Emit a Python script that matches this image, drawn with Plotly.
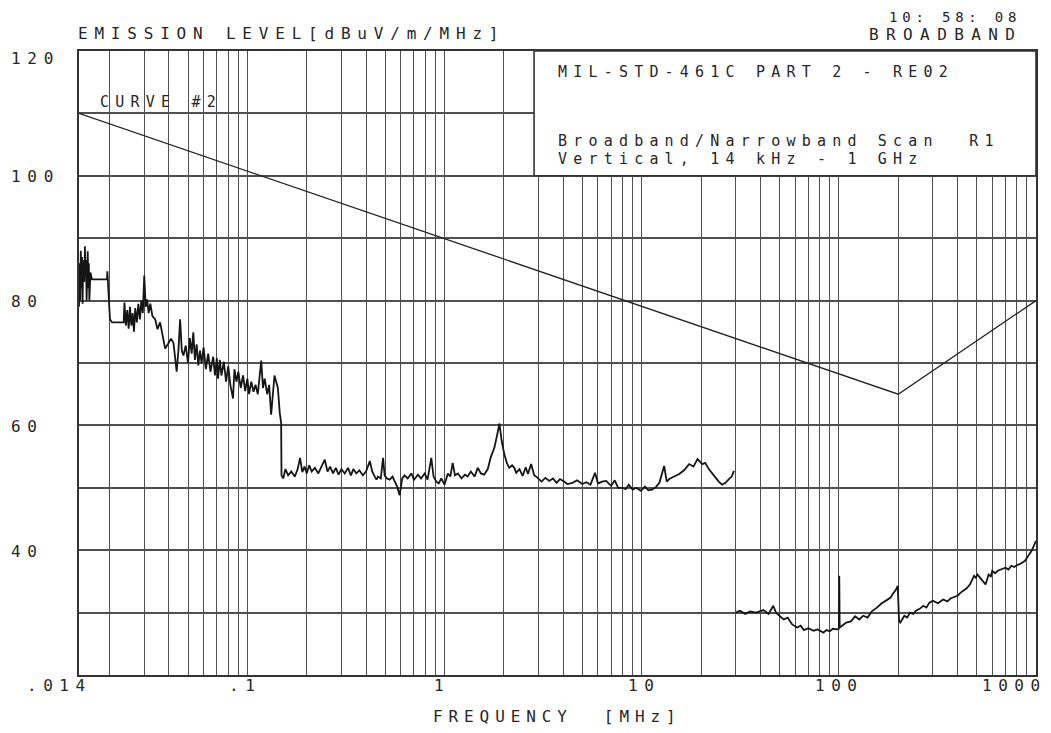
import numpy as np
import plotly.graph_objects as go

# ---------------- data ----------------
# Band 1: 14 kHz - 150 kHz
band1_freq = [0.0140, 0.0141, 0.0142, 0.0143, 0.0144, 0.0145, 0.0146, 0.0147, 0.0149, 0.0150,
              0.0151, 0.0152, 0.0153, 0.0155, 0.0156, 0.0157, 0.0158, 0.0160, 0.0163, 0.0194,
              0.0195, 0.0198, 0.0201, 0.0206, 0.0236, 0.0238, 0.0242, 0.0246, 0.0250, 0.0254,
              0.0258, 0.0262, 0.0266, 0.0270, 0.0275, 0.0280, 0.0285, 0.0290, 0.0295, 0.0300,
              0.0305, 0.0310, 0.0316, 0.0322, 0.0330, 0.0341, 0.0350, 0.0361, 0.0370, 0.0383,
              0.0395, 0.0410, 0.0422, 0.0438, 0.0447, 0.0456, 0.0465, 0.0474, 0.0487, 0.0500,
              0.0511, 0.0522, 0.0532, 0.0542, 0.0553, 0.0564, 0.0575, 0.0586, 0.0600, 0.0616,
              0.0633, 0.0650, 0.0671, 0.0685, 0.0700, 0.0710, 0.0725, 0.0739, 0.0760, 0.0780,
              0.0800, 0.0820, 0.0846, 0.0860, 0.0880, 0.0900, 0.0925, 0.0951, 0.0975, 0.1000,
              0.1020, 0.1047, 0.1075, 0.1100, 0.1130, 0.1176, 0.1200, 0.1225, 0.1260, 0.1290,
              0.1320, 0.1350, 0.1373, 0.1400, 0.1428, 0.1460, 0.1484]
band1_level = [79.0, 86.0, 80.0, 88.0, 82.0, 87.0, 79.5, 86.5, 83.0, 88.7,
               84.0, 86.5, 80.0, 87.9, 82.0, 86.0, 80.0, 84.5, 83.4, 83.4,
               84.7, 81.0, 77.0, 76.5, 76.5, 79.7, 76.0, 78.5, 75.5, 79.0,
               76.0, 78.0, 75.0, 78.8, 76.5, 79.5, 77.0, 80.0, 78.0, 84.0,
               79.0, 80.2, 78.0, 79.5, 77.5, 77.0, 75.4, 76.5, 74.5, 72.3,
               73.0, 73.9, 73.2, 68.6, 72.0, 77.0, 72.0, 71.2, 72.8, 70.0,
               74.0, 71.5, 74.9, 70.5, 73.0, 69.6, 72.0, 70.0, 72.5, 69.0,
               71.5, 68.6, 71.0, 68.0, 70.8, 67.5, 70.5, 68.0, 70.2, 67.0,
               69.5, 66.5, 64.3, 69.0, 67.0, 68.6, 66.0, 68.0, 65.5, 67.5,
               65.0, 67.0, 65.4, 66.5, 65.0, 70.4, 66.0, 67.5, 65.0, 66.5,
               61.7, 66.0, 68.0, 67.0, 66.0, 62.0, 60.4]

# Band 2: 150 kHz - 30 MHz
band2_freq = [0.149, 0.152, 0.156, 0.161, 0.167, 0.174, 0.180, 0.185, 0.190, 0.195,
              0.200, 0.206, 0.212, 0.220, 0.229, 0.238, 0.247, 0.255, 0.263, 0.272,
              0.281, 0.290, 0.300, 0.312, 0.324, 0.335, 0.345, 0.357, 0.370, 0.385,
              0.400, 0.418, 0.430, 0.443, 0.452, 0.460, 0.475, 0.488, 0.497, 0.510,
              0.527, 0.545, 0.558, 0.575, 0.592, 0.610, 0.628, 0.650, 0.679, 0.700,
              0.733, 0.760, 0.793, 0.820, 0.857, 0.880, 0.908, 0.935, 0.963, 1.000,
              1.040, 1.070, 1.100, 1.130, 1.169, 1.220, 1.270, 1.310, 1.360, 1.420,
              1.475, 1.530, 1.590, 1.657, 1.720, 1.790, 1.850, 1.900, 1.950, 2.010,
              2.070, 2.130, 2.200, 2.260, 2.310, 2.400, 2.490, 2.580, 2.650, 2.750,
              2.850, 2.970, 3.100, 3.250, 3.400, 3.550, 3.700, 3.850, 4.000, 4.200,
              4.460, 4.700, 5.000, 5.250, 5.500, 5.800, 6.000, 6.300, 6.600, 6.800,
              7.000, 7.300, 7.600, 8.000, 8.300, 8.600, 9.000, 9.400, 9.900, 10.40,
              10.80, 11.30, 11.80, 12.30, 13.00, 13.40, 13.80, 14.60, 15.50, 16.40,
              17.40, 18.30, 19.20, 20.30, 21.00, 21.90, 22.80, 23.70, 24.60, 25.60,
              26.60, 27.70, 28.60, 29.40]
band2_level = [52.0, 51.5, 53.0, 52.0, 52.6, 51.8, 53.0, 54.8, 52.5, 53.4,
               52.3, 53.6, 52.6, 53.2, 52.3, 53.4, 54.5, 52.6, 53.4, 52.3,
               53.2, 52.1, 53.0, 52.3, 53.2, 52.0, 53.0, 52.3, 52.8, 52.0,
               52.6, 54.3, 52.6, 51.8, 51.3, 51.8, 51.5, 54.8, 52.0, 51.5,
               51.3, 51.8, 51.0, 50.2, 48.8, 51.5, 52.0, 51.5, 52.3, 51.3,
               52.1, 51.5, 52.3, 51.3, 54.8, 51.8, 51.0, 50.7, 51.5, 50.5,
               52.3, 51.8, 54.0, 52.0, 52.3, 51.5, 52.1, 51.8, 52.6, 51.8,
               53.2, 52.3, 52.1, 53.0, 55.0, 56.4, 58.5, 60.3, 57.5, 55.4,
               54.0, 53.2, 53.6, 53.2, 52.4, 53.0, 51.9, 53.3, 52.2, 53.8,
               52.0, 51.6, 51.0, 51.6, 51.1, 51.5, 50.8, 51.4, 51.1, 50.6,
               50.8, 51.2, 50.6, 50.9, 50.5, 52.4, 50.7, 51.0, 51.1, 50.6,
               50.3, 51.2, 50.0, 50.0, 49.8, 50.5, 49.7, 50.0, 49.5, 50.2,
               49.6, 49.7, 50.1, 50.8, 53.5, 51.0, 51.4, 51.8, 52.2, 52.8,
               53.8, 53.4, 54.6, 53.8, 54.0, 53.0, 52.3, 51.6, 51.0, 50.5,
               50.8, 51.4, 51.8, 52.7]

# Band 3: 30 MHz - 1 GHz
band3_freq = [30.0, 31.5, 33.5, 35.5, 38.0, 41.5, 44.0, 46.5, 48.0, 50.0,
              52.5, 55.0, 58.0, 61.5, 64.0, 66.5, 70.0, 74.5, 78.0, 83.5,
              86.5, 90.0, 93.0, 97.0, 100.0, 100.5, 101.0, 105.0, 109.0, 115.0,
              121.0, 127.0, 133.0, 140.0, 147.0, 156.0, 165.0, 175.0, 183.0, 187.0,
              195.0, 199.0, 202.0, 205.0, 215.0, 222.0, 230.0, 238.0, 246.0, 257.0,
              268.0, 278.0, 288.0, 300.0, 318.0, 338.0, 355.0, 370.0, 385.0, 400.0,
              415.0, 430.0, 445.0, 462.0, 475.0, 485.0, 495.0, 505.0, 520.0, 535.0,
              555.0, 575.0, 590.0, 600.0, 620.0, 640.0, 670.0, 700.0, 725.0, 750.0,
              775.0, 800.0, 830.0, 855.0, 880.0, 900.0, 925.0, 950.0, 975.0, 1000.0]
band3_level = [30.0, 30.3, 29.8, 30.2, 30.0, 30.4, 29.8, 31.1, 30.0, 29.5,
               28.9, 29.2, 28.1, 27.6, 27.9, 27.2, 27.5, 27.1, 27.3, 26.8,
               27.2, 27.0, 27.4, 27.3, 27.4, 35.9, 27.6, 28.0, 28.4, 28.6,
               29.4, 28.9, 29.5, 29.2, 30.2, 30.8, 31.5, 32.0, 32.4, 32.9,
               33.7, 34.3, 28.7, 28.4, 29.5, 29.2, 30.0, 29.8, 30.3, 30.6,
               31.1, 30.8, 31.6, 31.9, 31.5, 32.1, 31.8, 32.3, 32.5, 32.7,
               33.2, 33.5, 33.9, 34.5, 35.3, 35.9, 35.6, 36.1, 35.6, 35.1,
               34.5, 36.1, 35.8, 36.7, 36.3, 36.7, 37.0, 37.2, 36.9, 37.5,
               37.3, 37.6, 37.8, 38.0, 38.3, 38.8, 39.4, 39.9, 40.7, 41.5]

# Limit line (CURVE #2)
limit_freq = [0.014, 200.0, 1000.0]
limit_level = [110.0, 65.0, 80.0]

# Axis tick labels
x_tick_vals = [0.014, 0.1, 1, 10, 100, 1000]
x_tick_text = [".014", ".1", "1", "10", "100", "1000"]
y_tick_vals = [40, 60, 80, 100, 120]
y_tick_text = ["40", "60", "80", "100", "120"]

# ---------------- styling ----------------
FONT = "DejaVu Sans Mono"
TXT = "#262626"
GRID = "#505050"
x_label_shift = [-23, -5, -6, -1, -3, -25]
y_label_shift = [-1, -1, -1, -1, -7]
box_left = (535 - 79) / 959.0


def sp(text, ls):
    # widen character pitch like the plotter font; no spacing after the last glyph
    text = text.replace(" ", "\u00a0")
    if len(text) < 2:
        return text
    return f'<span style="letter-spacing:{ls}px">{text[:-1]}</span>{text[-1]}'


x_grid = [k * 10.0 ** d for d in range(-2, 3) for k in range(1, 10)
          if 0.014 < k * 10.0 ** d < 1000] + [1000.0]

fig = go.Figure()
fig.add_trace(go.Scatter(x=band1_freq + band2_freq, y=band1_level + band2_level,
                         mode="lines", line=dict(color="#151515", width=1.8),
                         showlegend=False))
fig.add_trace(go.Scatter(x=band3_freq, y=band3_level, mode="lines",
                         line=dict(color="#151515", width=1.8), showlegend=False))
fig.add_trace(go.Scatter(x=limit_freq, y=limit_level, mode="lines",
                         line=dict(color="#222222", width=1.3), showlegend=False))

fig.update_xaxes(type="log", range=[np.log10(0.014), np.log10(1000)],
                 tickmode="array", tickvals=x_grid, showticklabels=False,
                 ticks="", showgrid=True, gridcolor=GRID, gridwidth=1.4,
                 showline=True, mirror=True, linecolor="#333333", linewidth=1.8,
                 zeroline=False, fixedrange=True)
fig.update_yaxes(range=[20, 120], tickmode="array", tickvals=list(range(20, 121, 10)),
                 showticklabels=False, ticks="", showgrid=True, gridcolor=GRID,
                 gridwidth=2, showline=True, mirror=True, linecolor="#333333",
                 linewidth=1.8, zeroline=False, fixedrange=True)

# white text box in the upper-right corner
fig.add_shape(type="rect", xref="paper", yref="y", x0=box_left, x1=1, y0=100, y1=120,
              fillcolor="white", line=dict(color="#333333", width=1.6), layer="above")

ann = []
for v, t, s in zip(x_tick_vals, x_tick_text, x_label_shift):
    ann.append(dict(x=np.log10(v), xref="x", y=0, yref="paper", text=sp(t, 6.5),
                    xanchor="center", yanchor="middle", xshift=s, yshift=-10,
                    showarrow=False, font=dict(family=FONT, size=16, color=TXT)))
for v, t, s in zip(y_tick_vals, y_tick_text, y_label_shift):
    ann.append(dict(x=0, xref="paper", y=v, yref="y", text=sp(t, 6.7),
                    xanchor="left", yanchor="middle", xshift=-70, yshift=s,
                    showarrow=False, font=dict(family=FONT, size=16, color=TXT)))


def add_text(text, x, xanchor, xshift, yshift, size, ls):
    ann.append(dict(x=x, xref="paper", y=1, yref="paper", text=sp(text, ls),
                    xanchor=xanchor, yanchor="middle", xshift=xshift, yshift=yshift,
                    showarrow=False, font=dict(family=FONT, size=size, color=TXT)))


add_text("EMISSION LEVEL[dBuV/m/MHz]", 0, "left", -3, 18, 16, 6.8)
add_text("10: 58: 08", 1, "right", -17, 34, 14, 4.8)
add_text("BROADBAND", 1, "right", -19, 17, 16, 7.4)
add_text("MIL-STD-461C PART 2 - RE02", box_left, "left", 22, -21, 15, 6.2)
add_text("Broadband/Narrowband Scan  R1", box_left, "left", 22, -90, 15, 6.2)
add_text("Vertical, 14 kHz - 1 GHz", box_left, "left", 22, -108, 15, 6.2)
add_text("CURVE #2", 0, "left", 19, -51, 15, 6.2)
ann.append(dict(x=0.5, xref="paper", y=0, yref="paper", text=sp("FREQUENCY  [MHz]", 5.9),
                xanchor="center", yanchor="middle", xshift=-3, yshift=-41,
                showarrow=False, font=dict(family=FONT, size=16, color=TXT)))

# The page body keeps the browser's default 8px margin, so the figure starts at
# (8, 8) in the window and is sized (1035 + 2*8, 717 + 2*8) to fill it exactly.
fig.update_layout(width=1035, height=717, margin=dict(l=71, r=5, t=43, b=50),
                  paper_bgcolor="white", plot_bgcolor="white", annotations=ann,
                  showlegend=False)

fig.write_html("out.html")
